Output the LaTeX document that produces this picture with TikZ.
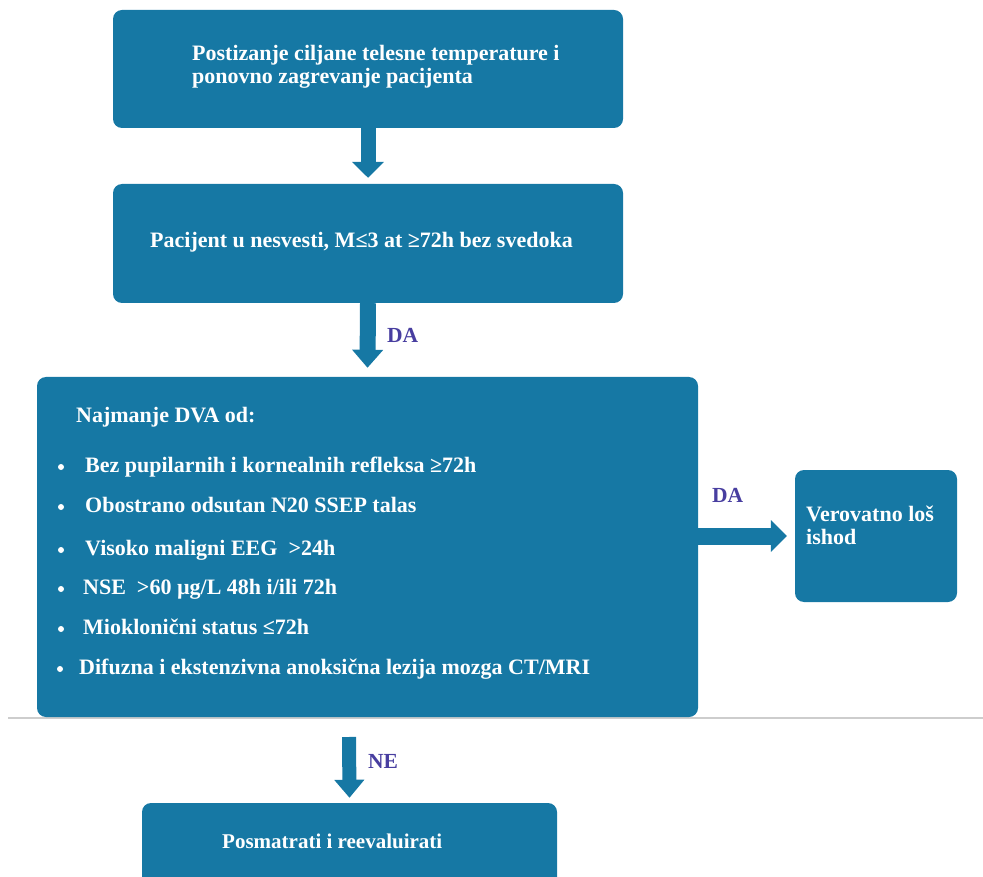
\documentclass[tikz,border=0pt]{standalone}
\usepackage{fontspec}
\setmainfont{Liberation Serif}
\usetikzlibrary{arrows.meta,calc}
\definecolor{boxblue}{RGB}{22,120,164}
\definecolor{lblblue}{RGB}{72,62,160}
\definecolor{rulegray}{RGB}{205,205,205}
\begin{document}
\begin{tikzpicture}[x=1pt,y=-1pt,
  box/.style={fill=boxblue, draw=none, rounded corners=9pt, inner sep=0pt},
  txt/.style={text=white, font=\bfseries\fontsize{22}{22.5}\selectfont, inner sep=0pt, anchor=base west},
  lbl/.style={text=lblblue, font=\bfseries\fontsize{21.5}{22}\selectfont, inner sep=0pt, anchor=base west},
  dot/.style={circle, fill=white, draw=none, minimum size=6pt, inner sep=0pt},
  flow/.style={draw=boxblue, line width=#1}]
\useasboundingbox (0,0) rectangle (983,877);
\clip (0,0) rectangle (983,877);

% separator line
\coordinate (ruleL) at (8,718);
\coordinate (ruleR) at (983,718);
\draw[rulegray, line width=1.6pt] (ruleL) -- (ruleR);

% boxes
\node[box, minimum width=510pt, minimum height=118pt] (b1) at (368,69) {};
\node[box, minimum width=510pt, minimum height=119pt] (b2) at (368,243.5) {};
\node[box, minimum width=661pt, minimum height=340pt] (b3) at (367.5,547) {};
\node[box, minimum width=162pt, minimum height=132pt] (b4) at (876,536) {};
\node[box, minimum width=415pt, minimum height=110pt] (b5) at (349.5,858) {};

% texts
\node[txt] (t1a) at (192,61) {Postizanje ciljane telesne temperature i};
\node[txt] (t1b) at (192,83.5) {ponovno zagrevanje pacijenta};
\node[txt] (t2) at (150,248) {Pacijent u nesvesti, M≤3 at ≥72h bez svedoka};
\node[txt] (t3h) at (76,422) {Najmanje DVA od:};
\node[txt] (i1) at (85,472) {Bez pupilarnih i kornealnih refleksa ≥72h};
\node[txt] (i2) at (85,512) {Obostrano odsutan N20 SSEP talas};
\node[txt] (i3) at (85,555) {Visoko maligni EEG\ \ >24h};
\node[txt] (i4) at (83,594) {NSE\ \ >60 µg/L 48h i/ili 72h};
\node[txt] (i5) at (83,634) {Mioklonični status ≤72h};
\node[txt] (i6) at (79,674) {Difuzna i ekstenzivna anoksična lezija mozga CT/MRI};
\node[dot] (d1) at (61,467) {};
\node[dot] (d2) at (61,507) {};
\node[dot] (d3) at (61,550) {};
\node[dot] (d4) at (61,589) {};
\node[dot] (d5) at (61,629) {};
\node[dot] (d6) at (60,669) {};
\node[txt] (t4a) at (806,521.5) {Verovatno loš};
\node[txt] (t4b) at (806,544) {ishod};
\node[txt, font=\bfseries\fontsize{21}{22}\selectfont] (t5) at (222,848) {Posmatrati i reevaluirati};

% labels
\node[lbl] (l1) at (387,343) {DA};
\node[lbl] (l2) at (712,502) {DA};
\node[lbl] (l3) at (368,768) {NE};

% arrows
\coordinate (s3) at (349,737);
\draw[flow=15pt, -{Triangle[length=16pt,width=31pt]}] (b1.south) -- ($(b2.north)+(0,-6)$);
\draw[flow=16pt, -{Triangle[length=18pt,width=30pt]}] (b2.south) -- ($(b3.north)+(0,-9)$);
\draw[flow=17pt, -{Triangle[length=16pt,width=31pt]}] ($(b3.east)+(0,-11)$) -- ($(b4.west)+(-8,0)$);
\draw[flow=14pt, -{Triangle[length=18pt,width=29pt]}] (s3) -- ($(b5.north)+(0,-5)$);
\end{tikzpicture}
\end{document}
